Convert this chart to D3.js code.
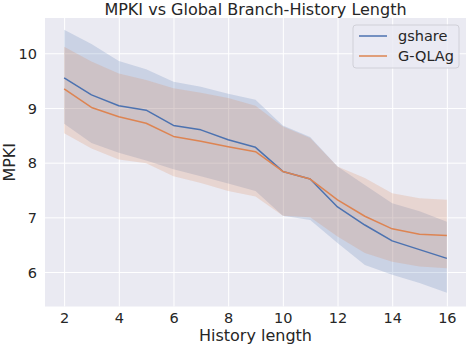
<!DOCTYPE html>
<html>
<head>
<meta charset="utf-8">
<script src="https://cdn.jsdelivr.net/npm/d3@7"></script>
<style>
  html, body { margin: 0; padding: 0; background: #ffffff; }
  svg { display: block; font-family: "DejaVu Sans", sans-serif; }
</style>
</head>
<body>
<svg id="chart" width="474" height="346"></svg>
<script>
const historyLength = [2, 3, 4, 5, 6, 7, 8, 9, 10, 11, 12, 13, 14, 15, 16];

const gshareMean  = [9.55, 9.24, 9.04, 8.96, 8.68, 8.60, 8.42, 8.28, 7.84, 7.70, 7.19, 6.86, 6.57, 6.41, 6.25];
const gshareUpper = [10.43, 10.17, 9.86, 9.71, 9.48, 9.39, 9.26, 9.15, 8.68, 8.47, 7.93, 7.59, 7.26, 7.11, 6.92];
const gshareLower = [8.71, 8.36, 8.18, 8.04, 7.88, 7.75, 7.62, 7.48, 7.03, 6.95, 6.53, 6.13, 5.95, 5.80, 5.62];

const gqlagMean  = [9.35, 9.01, 8.84, 8.72, 8.48, 8.39, 8.29, 8.20, 7.84, 7.70, 7.32, 7.02, 6.79, 6.69, 6.67];
const gqlagUpper = [10.12, 9.85, 9.63, 9.51, 9.36, 9.28, 9.18, 9.04, 8.66, 8.45, 7.93, 7.72, 7.44, 7.35, 7.32];
const gqlagLower = [8.54, 8.26, 8.06, 7.99, 7.75, 7.63, 7.48, 7.38, 7.03, 7.00, 6.65, 6.35, 6.19, 6.10, 6.07];

const xTicks = [2, 4, 6, 8, 10, 12, 14, 16];
const yTicks = [6, 7, 8, 9, 10];

const seriesNames = ["gshare", "G-QLAg"];
const seriesColors = ["#4C72B0", "#DD8452"];

const titleText = "MPKI vs Global Branch-History Length";
const xLabelText = "History length";
const yLabelText = "MPKI";

const series = [
  { name: seriesNames[0], color: seriesColors[0], mean: gshareMean, lo: gshareLower, hi: gshareUpper },
  { name: seriesNames[1], color: seriesColors[1], mean: gqlagMean, lo: gqlagLower, hi: gqlagUpper }
];

const svg = d3.select("#chart");
const W = 474, H = 346;
const plot = { left: 45, right: 466, top: 18, bottom: 306.5 };

const x = d3.scaleLinear().domain([1.3, 16.7]).range([plot.left, plot.right]);
const y = d3.scaleLinear().domain([5.37, 10.645]).range([plot.bottom, plot.top]);

const textColor = "#262626";

// background
svg.append("rect")
  .attr("x", plot.left).attr("y", plot.top)
  .attr("width", plot.right - plot.left).attr("height", plot.bottom - plot.top)
  .attr("fill", "#EAEAF2");

// grid via axes
const xGrid = d3.axisBottom(x).tickValues(xTicks).tickSize(-(plot.bottom - plot.top)).tickFormat("");
svg.append("g").attr("transform", `translate(0,${plot.bottom})`).call(xGrid)
  .call(g => g.select(".domain").remove())
  .call(g => g.selectAll("line").attr("stroke", "#ffffff").attr("stroke-width", 1));

const yGrid = d3.axisLeft(y).tickValues(yTicks).tickSize(-(plot.right - plot.left)).tickFormat("");
svg.append("g").attr("transform", `translate(${plot.left},0)`).call(yGrid)
  .call(g => g.select(".domain").remove())
  .call(g => g.selectAll("line").attr("stroke", "#ffffff").attr("stroke-width", 1));

// bands
const area = d3.area()
  .x((d, i) => x(historyLength[i]))
  .y0(d => y(d[0]))
  .y1(d => y(d[1]));

series.forEach(s => {
  const pts = s.lo.map((v, i) => [v, s.hi[i]]);
  svg.append("path").datum(pts)
    .attr("d", area)
    .attr("fill", s.color)
    .attr("fill-opacity", 0.2)
    .attr("stroke", "none");
});

// lines
const line = d3.line()
  .x((d, i) => x(historyLength[i]))
  .y(d => y(d));

series.forEach(s => {
  svg.append("path").datum(s.mean)
    .attr("d", line)
    .attr("fill", "none")
    .attr("stroke", s.color)
    .attr("stroke-width", 1.5)
    .attr("stroke-linejoin", "round");
});

// tick labels
const xAxis = d3.axisBottom(x).tickValues(xTicks).tickSize(0).tickPadding(0).tickFormat(d3.format("d"));
svg.append("g").attr("transform", `translate(0,${plot.bottom})`).call(xAxis)
  .call(g => g.select(".domain").remove())
  .call(g => g.selectAll("text")
    .attr("y", 16.5).attr("dy", 0)
    .attr("fill", textColor)
    .style("font-size", "14.5px")
    .style("font-family", "DejaVu Sans, sans-serif"));

const yAxis = d3.axisLeft(y).tickValues(yTicks).tickSize(0).tickPadding(0).tickFormat(d3.format("d"));
svg.append("g").attr("transform", `translate(${plot.left},0)`).call(yAxis)
  .call(g => g.select(".domain").remove())
  .call(g => g.selectAll("text")
    .attr("x", -8).attr("dy", "0.35em")
    .attr("fill", textColor)
    .style("font-size", "14.5px")
    .style("font-family", "DejaVu Sans, sans-serif"));

// title
svg.append("text")
  .attr("x", (plot.left + plot.right) / 2).attr("y", 14.5)
  .attr("text-anchor", "middle")
  .attr("fill", textColor)
  .style("font-size", "16px")
  .text(titleText);

// axis labels
svg.append("text")
  .attr("x", (plot.left + plot.right) / 2).attr("y", 341)
  .attr("text-anchor", "middle")
  .attr("fill", textColor)
  .style("font-size", "16px")
  .text(xLabelText);

svg.append("text")
  .attr("transform", `translate(15,${(plot.top + plot.bottom) / 2}) rotate(-90)`)
  .attr("text-anchor", "middle")
  .attr("fill", textColor)
  .style("font-size", "16px")
  .text(yLabelText);

// legend
const legend = svg.append("g").attr("transform", "translate(353,25)");
legend.append("rect")
  .attr("x", 0).attr("y", 0).attr("width", 106).attr("height", 43)
  .attr("rx", 3)
  .attr("fill", "#EAEAF2").attr("fill-opacity", 0.8)
  .attr("stroke", "#d0d0d8").attr("stroke-width", 1);
series.forEach((s, i) => {
  const cy = 11 + i * 20;
  legend.append("line")
    .attr("x1", 6).attr("x2", 34).attr("y1", cy).attr("y2", cy)
    .attr("stroke", s.color).attr("stroke-width", 1.5);
  legend.append("text")
    .attr("x", 45).attr("y", cy).attr("dy", "0.35em")
    .attr("fill", textColor)
    .style("font-size", "14.5px")
    .text(s.name);
});
</script>
</body>
</html>
